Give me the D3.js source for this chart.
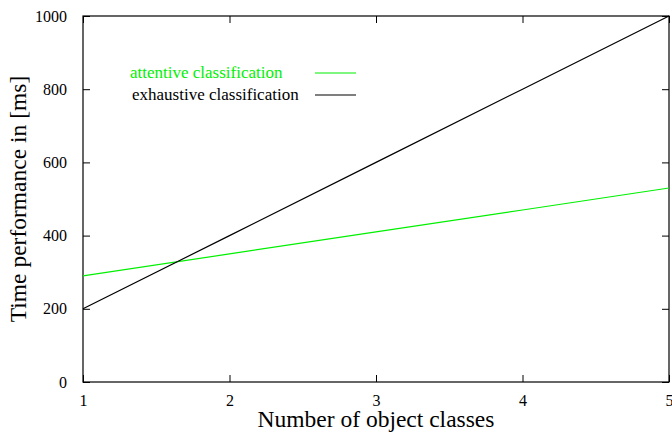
<!DOCTYPE html>
<html>
<head>
<meta charset="utf-8">
<script src="https://cdn.jsdelivr.net/npm/d3@7"></script>
<style>
  body { margin: 0; background: #fff; }
  svg { display: block; }
</style>
</head>
<body>
<div id="chart"></div>
<script>
const classes = [1, 2, 3, 4, 5];
const attentive = [290, 350, 410, 470, 530];
const exhaustive = [200, 400, 600, 800, 1000];
const xTicks = [1, 2, 3, 4, 5];
const yTicks = [0, 200, 400, 600, 800, 1000];

const series = [
  { name: "attentive classification", values: attentive, color: "#00f000", labelX: 130 },
  { name: "exhaustive classification", values: exhaustive, color: "#000", labelX: 132 }
];

const serif = "'Liberation Serif', 'Times New Roman', 'DejaVu Serif', serif";

const width = 672, height = 432;
const margin = { top: 16, right: 3, bottom: 50, left: 83 };

const svg = d3.select("#chart").append("svg")
  .attr("width", width)
  .attr("height", height);

const x = d3.scaleLinear().domain([1, 5]).range([margin.left, width - margin.right]);
const y = d3.scaleLinear().domain([0, 1000]).range([height - margin.bottom, margin.top]);

const tick = 7;

const styleAxis = g => {
  g.attr("font-family", serif).attr("font-size", 16);
  g.select(".domain").remove();
  g.selectAll(".tick line").attr("stroke", "#000");
  g.selectAll("text")
    .style("font-family", serif)
    .style("font-size", "16px")
    .attr("fill", "#000");
};

// bottom axis
svg.append("g")
  .attr("transform", `translate(0,${y(0)})`)
  .call(d3.axisBottom(x).tickValues(xTicks).tickSize(-tick).tickPadding(13).tickFormat(d3.format("d")))
  .call(styleAxis);

// top axis (mirror ticks)
svg.append("g")
  .attr("transform", `translate(0,${y(1000)})`)
  .call(d3.axisTop(x).tickValues(xTicks).tickSize(-tick).tickFormat(""))
  .call(styleAxis);

// left axis
svg.append("g")
  .attr("transform", `translate(${x(1)},0)`)
  .call(d3.axisLeft(y).tickValues(yTicks).tickSize(-tick).tickPadding(16).tickFormat(d3.format("d")))
  .call(styleAxis);

// right axis (mirror ticks)
svg.append("g")
  .attr("transform", `translate(${x(5)},0)`)
  .call(d3.axisRight(y).tickValues(yTicks).tickSize(-tick).tickFormat(""))
  .call(styleAxis);

// frame
svg.append("rect")
  .attr("x", x(1))
  .attr("y", y(1000))
  .attr("width", x(5) - x(1))
  .attr("height", y(0) - y(1000))
  .attr("fill", "none")
  .attr("stroke", "#000")
  .attr("stroke-width", 1.2);

// lines
const line = d3.line()
  .x((d, i) => x(classes[i]))
  .y(d => y(d));

svg.selectAll(".series")
  .data(series)
  .enter()
  .append("path")
  .attr("class", "series")
  .attr("d", d => line(d.values))
  .attr("fill", "none")
  .attr("stroke", d => d.color)
  .attr("stroke-width", 1.2);

// legend
const legend = svg.append("g").attr("class", "legend");
series.forEach((s, i) => {
  const ly = 73 + i * 22;
  legend.append("text")
    .attr("x", s.labelX)
    .attr("y", ly)
    .attr("dy", "0.32em")
    .style("font-family", serif)
    .style("font-size", "17px")
    .attr("fill", s.color)
    .text(s.name);
  legend.append("line")
    .attr("x1", 315)
    .attr("x2", 356)
    .attr("y1", ly)
    .attr("y2", ly)
    .attr("stroke", s.color)
    .attr("stroke-width", 1.2);
});

// axis titles
svg.append("text")
  .attr("x", (x(1) + x(5)) / 2)
  .attr("y", 427)
  .attr("text-anchor", "middle")
  .style("font-family", serif)
  .style("font-size", "23.5px")
  .text("Number of object classes");

svg.append("text")
  .attr("transform", `translate(26,${(y(0) + y(1000)) / 2}) rotate(-90)`)
  .attr("text-anchor", "middle")
  .style("font-family", serif)
  .style("font-size", "23.5px")
  .text("Time performance in [ms]");
</script>
</body>
</html>
